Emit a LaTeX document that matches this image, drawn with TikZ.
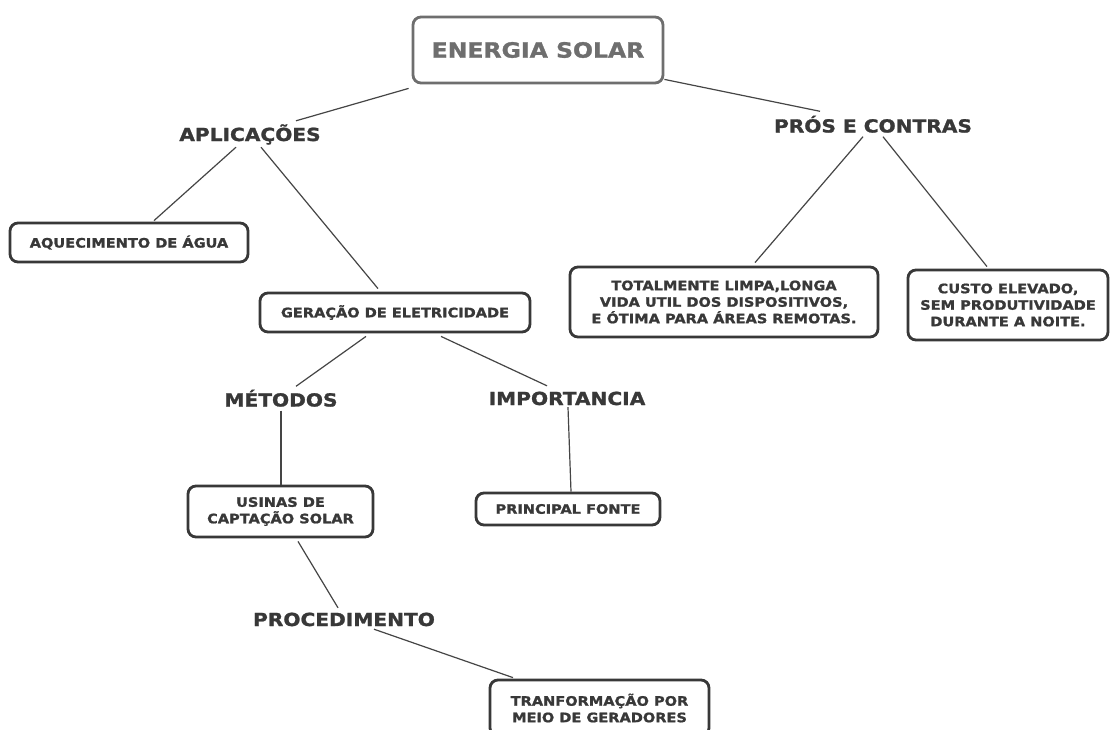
\documentclass[tikz,border=0pt]{standalone}
\usepackage{fontspec}
\setmainfont{DejaVu Sans}[FakeStretch=1.12, BoldFeatures={FakeBold=1.3}]
\usetikzlibrary{calc}
\definecolor{ink}{HTML}{383838}
\definecolor{soft}{HTML}{6E6E6E}
\definecolor{wire}{HTML}{454545}
\begin{document}
\begin{tikzpicture}[x=1pt,y=-1pt,
  box/.style={draw=ink, line width=2.8pt, rounded corners=8pt, fill=white,
    text=ink, font=\bfseries\fontsize{13}{16.5}\selectfont, align=center, inner sep=0pt},
  topbox/.style={box, draw=soft, text=soft, font=\bfseries\fontsize{21}{24}\selectfont},
  lbl/.style={text=ink, font=\bfseries\fontsize{18}{20}\selectfont, inner sep=0pt,
    text height=13pt, text depth=0pt},
  link/.style={draw=wire, line width=1.2pt}]
\clip (0,0) rectangle (1112,729);
\fill[white] (0,0) rectangle (1112,729);

% concept boxes
\node[topbox, minimum width=250, minimum height=66] (energia) at (538,50) {ENERGIA SOLAR};
\node[box, minimum width=238, minimum height=39] (aquec) at (129,242.5) {AQUECIMENTO DE ÁGUA};
\node[box, minimum width=270, minimum height=39] (geracao) at (395,312.5) {GERAÇÃO DE ELETRICIDADE};
\node[box, minimum width=308, minimum height=70] (totalm) at (724,302) {TOTALMENTE LIMPA,LONGA\\VIDA UTIL DOS DISPOSITIVOS,\\E ÓTIMA PARA ÁREAS REMOTAS.};
\node[box, minimum width=200, minimum height=70] (custo) at (1008,305) {CUSTO ELEVADO,\\SEM PRODUTIVIDADE\\DURANTE A NOITE.};
\node[box, minimum width=185, minimum height=51] (usinas) at (280.5,511.5) {USINAS DE\\CAPTAÇÃO SOLAR};
\node[box, minimum width=184, minimum height=32] (principal) at (568,509) {PRINCIPAL FONTE};
\node[box, minimum width=219, minimum height=56] (tranf) at (599.5,708) {TRANFORMAÇÃO POR\\MEIO DE GERADORES};

% linking words
\node[lbl] (aplic) at (250,134.5) {APLICAÇÕES};
\node[lbl] (pros) at (873,126) {PRÓS E CONTRAS};
\node[lbl] (metodos) at (281,400) {MÉTODOS};
\node[lbl] (import) at (567,398.5) {IMPORTANCIA};
\node[lbl] (proced) at (344,619.5) {PROCEDIMENTO};

% connectors
\draw[link] ($(energia.south west)+(-3,4)$) -- ($(aplic.north)+(46,-7)$);
\draw[link] ($(energia.south east)+(0,-5)$) -- ($(pros.north)+(-53,-8)$);
\draw[link] ($(aplic.south)+(-14,6)$) -- ($(aquec.north)+(25,-1)$);
\draw[link] ($(aplic.south)+(11,6)$) -- ($(geracao.north)+(-17,-3)$);
\draw[link] ($(pros.south)+(-10,4)$) -- ($(totalm.north)+(31,-3)$);
\draw[link] ($(pros.south)+(10,4)$) -- ($(custo.north)+(-21,-2)$);
\draw[link] ($(geracao.south)+(-29,3)$) -- ($(metodos.north)+(15,-7)$);
\draw[link] ($(geracao.south)+(46,3)$) -- ($(import.north)+(-20,-6)$);
\draw[link] ($(metodos.south)+(0,4)$) -- (metodos.south |- usinas.north);
\draw[link] ($(import.south)+(1,2)$) -- ($(principal.north)+(3,0)$);
\draw[link] ($(usinas.south)+(17.5,3)$) -- ($(proced.north)+(-6,-5)$);
\draw[link] ($(proced.south)+(30,3)$) -- ($(tranf.north)+(-86.5,-1)$);
\end{tikzpicture}
\end{document}
